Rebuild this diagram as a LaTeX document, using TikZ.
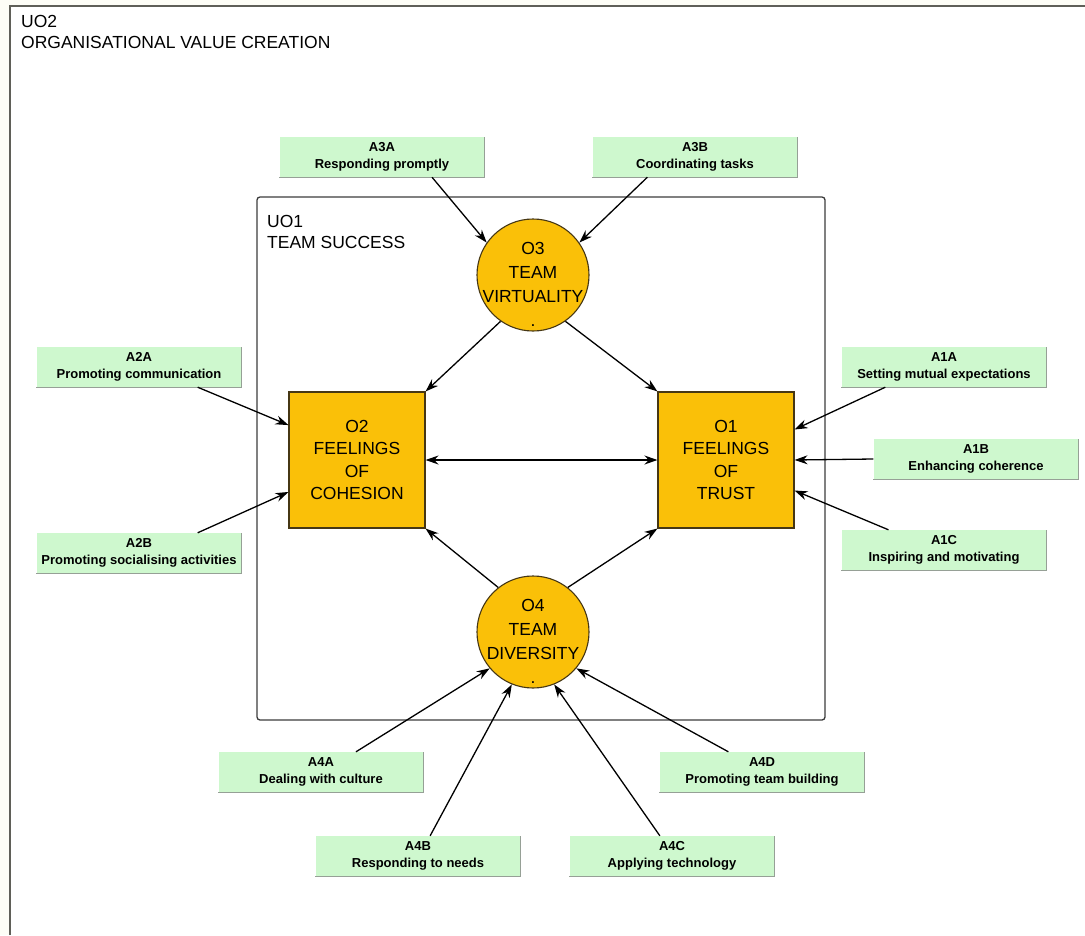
\documentclass[tikz,border=0pt]{standalone}
\usepackage{fontspec}
\setmainfont{Liberation Sans}
\usetikzlibrary{arrows.meta}
\definecolor{bgcream}{RGB}{253,253,246}
\definecolor{framegray}{RGB}{95,95,88}
\definecolor{actgreen}{RGB}{206,248,206}
\definecolor{actedge}{RGB}{150,160,150}
\definecolor{ogold}{RGB}{250,192,8}
\definecolor{oedge}{RGB}{70,55,20}
\definecolor{innerframe}{RGB}{60,60,60}
\tikzset{
  act/.style={fill=actgreen, minimum width=205pt, minimum height=40pt, inner sep=0pt,
    align=center, font=\fontsize{13}{17}\selectfont\bfseries},
  ocircle/.style={circle, draw=oedge, line width=1.1pt, fill=ogold, minimum size=112pt, inner sep=0pt},
  obox/.style={rectangle, draw=oedge, line width=1.1pt, fill=ogold, minimum size=136pt, inner sep=0pt,
    align=center, font=\fontsize{17.5}{22.5}\selectfont},
  otext/.style={align=center, font=\fontsize{17.5}{24}\selectfont, inner sep=0pt},
  title/.style={align=left, anchor=north west, font=\fontsize{17.5}{21}\selectfont, inner sep=0pt},
  arr/.style={line width=1.3pt, -{Stealth[length=13pt,width=9pt]}},
  darr/.style={line width=1.3pt, {Stealth[length=13pt,width=9pt]}-{Stealth[length=13pt,width=9pt]}}
}
\begin{document}
\begin{tikzpicture}[x=1pt,y=-1pt]
\useasboundingbox (0,0) rectangle (1085,935);
\fill[bgcream] (0,0) rectangle (1085,935);
\fill[white] (10,6) rectangle (1085,935);
\draw[framegray, line width=2pt] (10,935) -- (10,6) -- (1085,6);
\node[title] (uo2) at (21,15) {UO2\\ORGANISATIONAL VALUE CREATION};
% inner frame
\draw[rounded corners=3pt, line width=1.3pt, draw=innerframe] (257,197) rectangle (825,720);
\node[title] (uo1) at (267,215) {UO1\\TEAM SUCCESS};
% outcome nodes
\node[ocircle] (o3) at (533,275) {};
\node[otext] (o3t) at (533,284) {O3\\TEAM\\VIRTUALITY\\.};
\node[ocircle] (o4) at (533,632) {};
\node[otext] (o4t) at (533,641) {O4\\TEAM\\DIVERSITY\\.};
\node[obox] (o2) at (357,460) {O2\\FEELINGS\\OF\\COHESION};
\node[obox] (o1) at (726,460) {O1\\FEELINGS\\OF\\TRUST};
% activity nodes
\node[act] (a3a) at (382,157) {A3A\\Responding promptly};
\node[act] (a3b) at (695,157) {A3B\\Coordinating tasks};
\node[act] (a2a) at (139,367) {A2A\\Promoting communication};
\node[act] (a2b) at (139,553) {A2B\\Promoting socialising activities};
\node[act] (a1a) at (944,367) {A1A\\Setting mutual expectations};
\node[act] (a1b) at (976,459) {A1B\\Enhancing coherence};
\node[act] (a1c) at (944,550) {A1C\\Inspiring and motivating};
\node[act] (a4a) at (321,772) {A4A\\Dealing with culture};
\node[act] (a4b) at (418,856) {A4B\\Responding to needs};
\node[act] (a4c) at (672,856) {A4C\\Applying technology};
\node[act] (a4d) at (762,772) {A4D\\Promoting team building};
\foreach \n in {a3a,a3b,a2a,a2b,a1a,a1b,a1c,a4a,a4b,a4c,a4d}{
  \draw[actedge, line width=1pt] (\n.south west) -- (\n.south east) -- (\n.north east);
}
% connectors
\draw[arr] (a3a.-22.6) -- (o3.145);
\draw[arr] (a3b.-157.4) -- (o3.35);
\draw[arr] (o3.235) -- (o2.north east);
\draw[arr] (o3.-55) -- (o1.north west);
\draw[darr] (o2.east) -- (o1.west);
\draw[arr] (o4.128) -- (o2.south east);
\draw[arr] (o4.52) -- (o1.south west);
\draw[arr] (a2a.-19.7) -- (o2.153);
\draw[arr] (a2b.19.7) -- (o2.205);
\draw[arr] (a1a.199.7) -- (o1.24.9);
\draw[arr] (a1b.west) -- (o1.east);
\draw[arr] (a1c.160.3) -- (o1.-24.9);
\draw[arr] (a4a.30.5) -- (o4.-140);
\draw[arr] (a4b.59) -- (o4.-112);
\draw[arr] (a4c.121) -- (o4.-68);
\draw[arr] (a4d.149.5) -- (o4.-40);
\end{tikzpicture}
\end{document}
